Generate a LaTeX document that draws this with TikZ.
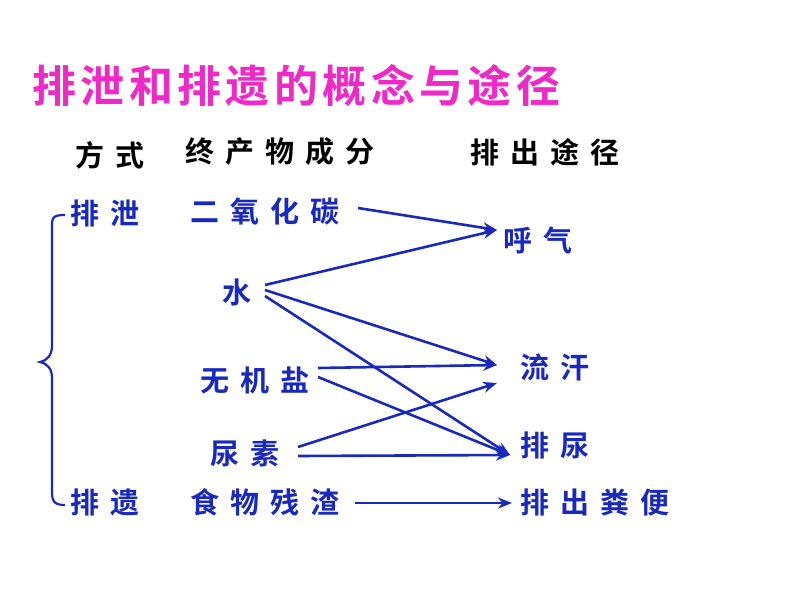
\documentclass[tikz,border=0pt]{standalone}
\usepackage{fontspec}
\newfontfamily\cjk[LetterSpace=38]{Noto Sans CJK SC Bold}
\newfontfamily\cjkt[LetterSpace=10]{Noto Sans CJK SC Bold}
\usetikzlibrary{arrows.meta}
\definecolor{bl}{RGB}{25,40,190}
\definecolor{pk}{RGB}{240,40,200}
\begin{document}
\begin{tikzpicture}[x=1pt,y=-1pt,
 t/.style={anchor=west,inner sep=0pt,font=\cjk\fontsize{29}{29}\selectfont,text=bl},
 h/.style={t,text=black},
 ar/.style={draw=bl,line width=2.6pt,-{Stealth[length=14pt,width=11pt]}}]
\useasboundingbox (0,0) rectangle (794,596);
\node[anchor=west,inner sep=0pt,font=\cjkt\fontsize{44}{44}\selectfont,text=pk] (title) at (32,85) {排泄和排遗的概念与途径};
\node[h] (fs) at (75,155) {方式};
\node[h] (cf) at (185,152) {终产物成分};
\node[h] (tj) at (470,152) {排出途径};
\node[t] (px) at (70,213) {排泄};
\node[t] (co) at (190,211) {二氧化碳};
\node[t] (hq) at (503,240) {呼气};
\node[t] (sh) at (222,293) {水};
\node[t] (wj) at (200,380) {无机盐};
\node[t] (lh) at (520,367) {流汗};
\node[t] (ns) at (210,453) {尿素};
\node[t] (pn) at (520,445) {排尿};
\node[t] (py) at (70,502) {排遗};
\node[t] (sw) at (190,502) {食物残渣};
\node[t] (fb) at (520,502) {排出粪便};
\coordinate (a1) at (497,230); \coordinate (a2) at (497,365); \coordinate (a3) at (510,455);
\coordinate (a4) at (497,383); \coordinate (a5) at (512,503);
\draw[ar] (358,208) -- (a1);
\draw[ar] (265,285) -- (a1);
\draw[ar] (265,290) -- (a2);
\draw[ar] (265,296) -- (a3);
\draw[ar] (318,368) -- (a2);
\draw[ar] (318,377) -- (a3);
\draw[ar] (298,447) -- (a4);
\draw[ar] (298,456) -- (a3);
\draw[ar] (355,503) -- (a5);
\draw[bl,line width=2.2pt] (65,215) .. controls (52,215) and (52,218) .. (52,228) -- (52,345) .. controls (52,355) and (48,360) .. (40,362) .. controls (48,364) and (52,369) .. (52,378) -- (52,492) .. controls (52,502) and (55,505) .. (65,505);
\end{tikzpicture}
\end{document}
